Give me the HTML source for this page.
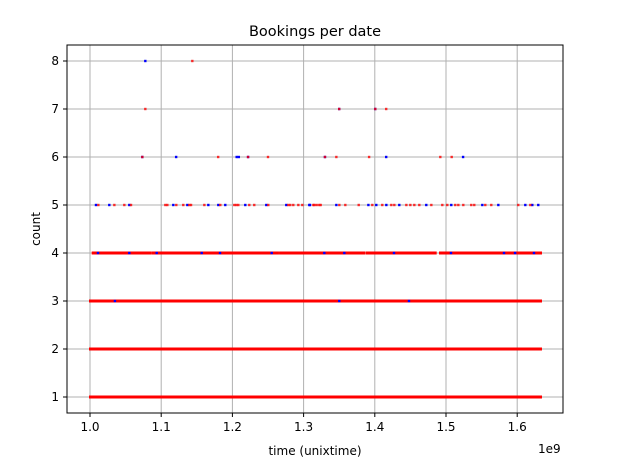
<!DOCTYPE html>
<html><head><meta charset="utf-8"><style>
body{margin:0;background:#fff;font-family:"Liberation Sans","DejaVu Sans",sans-serif}
svg text{font-family:"DejaVu Sans","Liberation Sans",sans-serif;font-size:12px;fill:#000}
</style></head><body>
<svg id="c" width="619" height="465">
<rect width="619" height="465" fill="#fff"/>
<g id="grid"></g><g id="marks"></g><g id="axes"></g>
<text x="315" y="36" text-anchor="middle" style="font-size:14.5px">Bookings per date</text>
<text x="315" y="455" text-anchor="middle">time (unixtime)</text>
<text x="0" y="0" transform="translate(40,229) rotate(-90)" text-anchor="middle">count</text>
<text x="538" y="453">1e9</text>
</svg>
<script>
const xTicks=[1.0,1.1,1.2,1.3,1.4,1.5,1.6];
const xTickLabels=["1.0","1.1","1.2","1.3","1.4","1.5","1.6"];
const yTicks=[1,2,3,4,5,6,7,8];
const solidRows=[1,2,3];
const solidStart=1.0, solidEnd=1.6334;
const row4Runs=[[1.0038,1.0291],[1.0313,1.0853],[1.0881,1.103],[1.1053,1.264],[1.2669,1.3853],[1.3886,1.4308],[1.433,1.4855],[1.4916,1.6334]];
const row4Blue=[1.0112,1.0552,1.0937,1.1569,1.1826,1.2552,1.3291,1.3572,1.427,1.507,1.5815,1.597,1.6236];
const row3Blue=[1.035,1.3501,1.448];
const row5Red=[1.0117,1.0342,1.0482,1.0576,1.1058,1.1086,1.1212,1.131,1.1395,1.1419,1.1606,1.183,1.2027,1.2055,1.2083,1.2237,1.2307,1.2504,1.2785,1.2813,1.2855,1.2926,1.2982,1.315,1.322,1.3137,1.3184,1.324,1.3502,1.3586,1.3774,1.3965,1.4105,1.4232,1.4274,1.4443,1.4499,1.4555,1.4625,1.4794,1.4948,1.5018,1.513,1.5173,1.5243,1.5355,1.5397,1.5552,1.5636,1.6015,1.6184];
const row5Blue=[1.0084,1.0271,1.0552,1.117,1.1367,1.1662,1.1802,1.19,1.2181,1.2476,1.2757,1.308,1.309,1.346,1.391,1.4021,1.4162,1.4344,1.4723,1.5074,1.551,1.5735,1.6114,1.6212,1.6296];
const row6Red=[1.0735,1.18,1.222,1.25,1.33,1.346,1.392,1.492,1.508];
const row6Blue=[1.0735,1.121,1.206,1.209,1.222,1.33,1.416,1.524];
const row7Red=[1.0777,1.35,1.4007,1.416];
const row7Blue=[1.35,1.4007];
const row8Red=[1.1437];
const row8Blue=[1.0777];

const L=67,R=563,T=45,B=413;
const xs=t=>90+(t-1.0)*712;
const ys=v=>397-(v-1)*48;
const NS="http://www.w3.org/2000/svg";
function mk(tag,attrs,parent){const e=document.createElementNS(NS,tag);for(const k in attrs)e.setAttribute(k,attrs[k]);parent.appendChild(e);return e;}
const grid=document.getElementById('grid'),marks=document.getElementById('marks'),axes=document.getElementById('axes');
xTicks.forEach((t,i)=>{
 const g=mk('line',{x1:xs(t),x2:xs(t),y1:T,y2:B,stroke:'#b0b0b0','stroke-width':1},grid);
 
 
 mk('line',{x1:xs(t),x2:xs(t),y1:B,y2:B+4,stroke:'#000'},axes);
 const tx=mk('text',{x:xs(t),y:B+18,'text-anchor':'middle'},axes);tx.textContent=xTickLabels[i];
 
 
});
yTicks.forEach(v=>{
 const g=mk('line',{x1:L,x2:R,y1:ys(v),y2:ys(v),stroke:'#b0b0b0','stroke-width':1},grid);
 
 
 mk('line',{x1:L-4,x2:L,y1:ys(v),y2:ys(v),stroke:'#000'},axes);
 const tx=mk('text',{x:L-8,y:ys(v)+4,'text-anchor':'end'},axes);tx.textContent=String(v);
 
 
});
const fr=mk('rect',{x:L,y:T,width:R-L,height:B-T,fill:'none',stroke:'#000','stroke-width':1},axes);


solidRows.forEach(v=>{
 const r=mk('rect',{x:xs(solidStart)-1,y:ys(v)-1.5,width:xs(solidEnd)-xs(solidStart)+2,height:3,fill:'#ff0000'},marks);
 
 
});
row4Runs.forEach(([a,b])=>{
 const r=mk('rect',{x:xs(a)-1,y:ys(4)-1.5,width:xs(b)-xs(a)+2,height:3,fill:'#ff0000'},marks);
 
 
});
function dots(arr,v,col,op){arr.forEach(t=>{
 const c=mk('rect',{x:xs(t)-1.2,y:ys(v)-1.2,width:2.4,height:2.4,fill:col,'fill-opacity':op},marks);
 
 
});}
dots(row3Blue,3,'#0000ff',1);dots(row4Blue,4,'#0000ff',1);
dots(row5Blue,5,'#0000ff',1);dots(row5Red,5,'#ff0000',0.8);
dots(row6Blue,6,'#0000ff',1);dots(row6Red,6,'#ff0000',0.8);
dots(row7Blue,7,'#0000ff',1);dots(row7Red,7,'#ff0000',0.8);
dots(row8Blue,8,'#0000ff',1);dots(row8Red,8,'#ff0000',0.8);
</script>
</body></html>
